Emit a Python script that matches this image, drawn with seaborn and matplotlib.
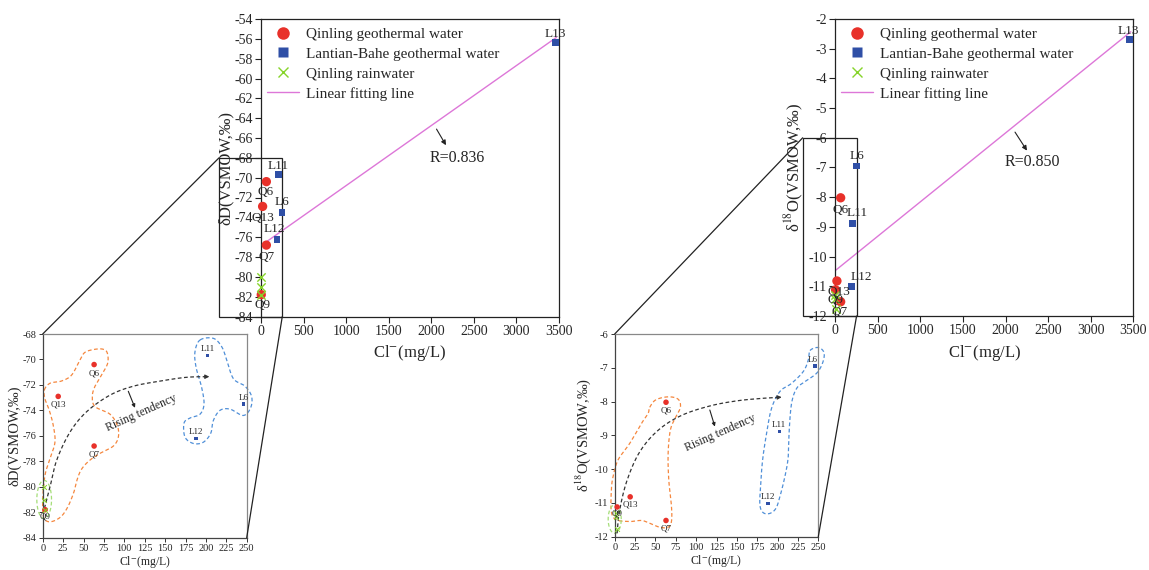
import numpy as np
import pandas as pd
import matplotlib
matplotlib.use("Agg")
import matplotlib.pyplot as plt
import seaborn as sns
from matplotlib.lines import Line2D
from matplotlib.patches import Rectangle, ConnectionPatch

# ---------------- data ----------------
q_labels = ["Q6", "Q13", "Q7", "Q9"]
q_cl = [63, 19, 63, 3]
q_dD = [-70.4, -72.9, -76.8, -81.8]
q_d18O = [-8.02, -10.82, -11.52, -11.12]

l_labels = ["L6", "L11", "L12", "L13"]
l_cl = [246, 202, 188, 3455]
l_dD = [-73.5, -69.7, -76.2, -56.4]
l_d18O = [-6.95, -8.88, -11.02, -2.68]

r_cl = [1, 2, 3]
r_dD = [-80.0, -81.0, -81.8]
r_d18O = [-11.29, -11.42, -11.78]

fit_cl = [0, 3470]
fit_dD = [-76.85, -55.85]
fit_d18O = [-10.47, -2.43]
r_texts = ["R=0.836", "R=0.850"]

legend_labels = ["Qinling geothermal water", "Lantian-Bahe geothermal water",
                 "Qinling rainwater", "Linear fitting line"]

# hand-drawn group outlines in the zoomed panels (data coords)
hull_q_dD = [(2.0, -72.4), (8.9, -71.87), (23.2, -71.69), (35.5, -71.22), (45.7, -70.04),
             (51.8, -69.44), (64.1, -69.2), (74.3, -69.2), (79.2, -69.5), (79.6, -70.3),
             (72.3, -71.2), (64.1, -72.1), (60.8, -72.9), (64.1, -73.7), (82.5, -74.3),
             (91.5, -75.2), (92.7, -76.1), (86.6, -76.8), (72.3, -77.3), (58.0, -77.9),
             (47.8, -78.6), (42.4, -79.4), (38.3, -80.4), (31.4, -81.5), (23.2, -82.3),
             (13.0, -82.7), (4.9, -82.7), (0.8, -82.3), (0.0, -81.0), (2.8, -79.1),
             (8.9, -77.8), (15.0, -76.5), (13.0, -75.2), (8.1, -74.0), (2.8, -73.1)]
hull_l_dD = [(192.8, -68.47), (209.1, -68.34), (219.3, -68.99), (225.4, -70.0), (233.6, -71.5),
             (247.9, -72.1), (256.0, -72.9), (254.8, -73.8), (245.8, -74.4), (229.5, -73.9),
             (217.2, -74.0), (209.1, -74.8), (205.9, -75.8), (196.9, -76.5), (184.7, -76.6),
             (174.4, -76.1), (173.2, -75.0), (180.5, -74.6), (192.8, -74.3), (197.7, -73.5),
             (194.8, -72.2), (187.9, -70.6), (186.6, -69.4)]
hull_r_dD = (1.8, -81.0, 18.0, 3.0)
trend_dD = [(2.1, -81.7), (9.0, -80.0), (17.2, -77.9), (33.5, -75.7), (53.9, -74.1),
            (82.5, -72.8), (111.1, -72.1), (143.8, -71.7), (176.4, -71.4), (204.2, -71.35)]

hull_q_d18O = [(43.0, -8.17), (50.4, -7.95), (65.6, -7.86), (77.9, -7.93), (80.7, -8.17),
               (75.0, -8.45), (68.4, -8.84), (65.6, -9.53), (66.4, -10.32), (69.7, -11.1),
               (69.7, -11.55), (65.6, -11.72), (55.3, -11.72), (43.0, -11.6), (32.8, -11.52),
               (18.4, -11.55), (2.1, -11.5), (-4.1, -11.26), (-4.1, -10.62), (-2.0, -10.22),
               (4.1, -9.73), (18.4, -9.24), (32.8, -8.65), (41.0, -8.35)]
hull_l_d18O = [(239.8, -6.49), (250.0, -6.40), (257.0, -6.55), (255.4, -6.85), (248.0, -7.16),
               (233.6, -7.41), (223.4, -7.61), (217.2, -8.05), (214.3, -8.84), (213.1, -9.63),
               (209.0, -10.22), (202.9, -10.81), (198.0, -11.16), (190.6, -11.31), (182.4, -11.29),
               (178.3, -11.06), (179.1, -10.52), (181.6, -9.73), (186.5, -8.94), (192.6, -8.2),
               (202.9, -7.70), (217.2, -7.46), (231.6, -7.11), (237.7, -6.77)]
hull_r_d18O = (0.0, -11.48, 16.0, 0.84)
trend_d18O = [(2.9, -11.9), (6.1, -11.21), (15.2, -10.33), (30.7, -9.49), (53.3, -8.85),
              (82.0, -8.41), (116.8, -8.13), (149.6, -7.98), (178.3, -7.91), (205.0, -7.87)]

# ---------------- style ----------------
sns.set_theme(style="ticks")
plt.rcParams["font.family"] = ["Liberation Serif", "DejaVu Serif"]
plt.rcParams["mathtext.fontset"] = "stix"
plt.rcParams["axes.unicode_minus"] = False

RED = "#e8312a"
BLUE = "#2f4fa6"
GREEN = "#86d42a"
PINK = "#dd77d8"
ORANGE = "#f5873e"
LBLUE = "#4f8fd8"
LGREEN = "#a5de78"


def smooth(pts, n=16, closed=True):
    P = np.asarray(pts, float)
    N = len(P)
    if not closed:
        P = np.vstack([P[0], P, P[-1]])
    out = []
    rng = range(N) if closed else range(1, N)
    for i in rng:
        if closed:
            p0, p1, p2, p3 = P[(i - 1) % N], P[i], P[(i + 1) % N], P[(i + 2) % N]
        else:
            p0, p1, p2, p3 = P[i - 1], P[i], P[i + 1], P[i + 2]
        t = np.linspace(0, 1, n, endpoint=False)[:, None]
        seg = 0.5 * ((2 * p1) + (-p0 + p2) * t + (2 * p0 - 5 * p1 + 4 * p2 - p3) * t ** 2
                     + (-p0 + 3 * p1 - 3 * p2 + p3) * t ** 3)
        out.append(seg)
    out.append(P[:1] if closed else P[-2:-1])
    return np.vstack(out)


W, H = 1149, 570
fig = plt.figure(figsize=(W / 100, H / 100), dpi=100)


def ax_at(l, t, r, b):
    return fig.add_axes([l / W, 1 - b / H, (r - l) / W, (b - t) / H])


ax1 = ax_at(261, 19, 559, 316.5)
ax2 = ax_at(835.3, 19, 1133.3, 316)
in1 = ax_at(42.7, 334, 246.7, 537.7)
in2 = ax_at(614.7, 334, 818.3, 536.7)

q_df = pd.DataFrame({"cl": q_cl, "dD": q_dD, "d18O": q_d18O, "lab": q_labels})
l_df = pd.DataFrame({"cl": l_cl, "dD": l_dD, "d18O": l_d18O, "lab": l_labels})
r_df = pd.DataFrame({"cl": r_cl, "dD": r_dD, "d18O": r_d18O})
fit_df = pd.DataFrame({"cl": fit_cl, "dD": fit_dD, "d18O": fit_d18O})

main_q_off = {
    "dD": {"Q6": (-1, -10), "Q13": (0, -12), "Q7": (0, -12), "Q9": (1, -10)},
    "d18O": {"Q6": (0, -12), "Q13": (2, -11), "Q7": (-1, -10), "Q9": (0, -10)},
}
main_l_off = {
    "dD": {"L6": (0, 10), "L11": (0, 9), "L12": (-3, 10), "L13": (0, 9)},
    "d18O": {"L6": (1, 10), "L11": (5, 10), "L12": (10, 10), "L13": (-1, 8)},
}
in_q_off = {
    "dD": {"Q6": (0, -9), "Q13": (0, -8), "Q7": (0, -8), "Q9": (0, -7)},
    "d18O": {"Q6": (0, -8), "Q13": (0, -8), "Q7": (0, -8), "Q9": (0, -7)},
}
in_l_off = {
    "dD": {"L6": (0, 6), "L11": (0, 7), "L12": (0, 6)},
    "d18O": {"L6": (-2, 6), "L11": (0, 6), "L12": (0, 7)},
}

configs = [
    dict(ax=ax1, ins=in1, col="dD", ylim=(-84, -54), ystep=2, iylim=(-84, -68), iystep=2,
         ylabel="δD(VSMOW,‰)", rect=(-493, -84, 743, 16), rtext=r_texts[0],
         rarrow=((2045, -64.86), (2189, -66.97)), rpos=(2300, -68.0), ylpad=0.5,
         hq=hull_q_dD, hl=hull_l_dD, hr=hull_r_dD, tr=trend_dD,
         small=((104.9, -72.5), (113.1, -73.8)), rising=(121.3, -74.18)),
    dict(ax=ax2, ins=in2, col="d18O", ylim=(-12, -2), ystep=1, iylim=(-12, -6), iystep=1,
         ylabel="δ$^{18}$O(VSMOW,‰)", rect=(-383, -12, 633, 6), rtext=r_texts[1],
         rarrow=((2093, -5.73), (2269, -6.51)), rpos=(2309, -6.81), ylpad=1.5,
         hq=hull_q_d18O, hl=hull_l_d18O, hr=hull_r_d18O, tr=trend_d18O,
         small=((116.8, -8.25), (123.0, -8.74)), rising=(130.0, -8.92)),
]

for c in configs:
    ax, ins, col = c["ax"], c["ins"], c["col"]
    # ---- main panel ----
    sns.lineplot(data=fit_df, x="cl", y=col, ax=ax, color=PINK, lw=1.0, legend=False)
    sns.scatterplot(data=q_df, x="cl", y=col, ax=ax, color=RED, marker="o", s=45,
                    edgecolor="none", clip_on=False, zorder=4, legend=False)
    sns.scatterplot(data=l_df, x="cl", y=col, ax=ax, color=BLUE, marker="s", s=24,
                    edgecolor="none", clip_on=False, zorder=4, legend=False)
    sns.scatterplot(data=r_df, x="cl", y=col, ax=ax, color=GREEN, marker="x", s=36,
                    linewidth=1.0, clip_on=False, zorder=5, legend=False)
    for _, row in q_df.iterrows():
        ax.annotate(row["lab"], (row["cl"], row[col]), xytext=main_q_off[col][row["lab"]],
                    textcoords="offset pixels", ha="center", va="center", fontsize=9.5,
                    annotation_clip=False, zorder=6)
    for _, row in l_df.iterrows():
        ax.annotate(row["lab"], (row["cl"], row[col]), xytext=main_l_off[col][row["lab"]],
                    textcoords="offset pixels", ha="center", va="center", fontsize=9.5,
                    annotation_clip=False, zorder=6)
    ax.annotate("", xy=c["rarrow"][1], xytext=c["rarrow"][0],
                arrowprops=dict(arrowstyle="-|>", color="#222222", lw=0.8,
                                mutation_scale=7))
    ax.text(*c["rpos"], c["rtext"], ha="center", va="center", fontsize=11.5)
    ax.set_xlim(0, 3500)
    ax.set_ylim(*c["ylim"])
    ax.set_xticks(np.arange(0, 3501, 500))
    ax.set_yticks(np.arange(c["ylim"][0], c["ylim"][1] + 0.01, c["ystep"]))
    ax.tick_params(direction="out", length=4, width=0.8, labelsize=10, pad=2, color="#222222")
    ax.set_xlabel("Cl$^{-}$(mg/L)", fontsize=12, labelpad=4)
    ax.set_ylabel(c["ylabel"], fontsize=12, labelpad=c["ylpad"])
    for sp in ax.spines.values():
        sp.set_visible(True)
        sp.set_color("#222222")
        sp.set_linewidth(0.9)
    handles = [
        Line2D([], [], ls="none", marker="o", ms=9, color=RED, mec="none"),
        Line2D([], [], ls="none", marker="s", ms=7, color=BLUE, mec="none"),
        Line2D([], [], ls="none", marker="x", ms=7.5, color=GREEN, mew=1.0),
        Line2D([], [], color=PINK, lw=1.0),
    ]
    ax.legend(handles, legend_labels, loc="upper left", bbox_to_anchor=(0.02, 0.972),
              frameon=False, fontsize=11, borderpad=0, borderaxespad=0,
              handlelength=2.1, handletextpad=0.45, labelspacing=0.4)
    # zoom box
    x0, y0, w, h = c["rect"]
    ax.add_patch(Rectangle((x0, y0), w, h, fill=False, ec="#222222", lw=0.9,
                           clip_on=False, zorder=3))

    # ---- inset panel ----
    for hull, hc in ((c["hq"], ORANGE), (c["hl"], LBLUE)):
        pts = smooth(hull)
        ins.plot(pts[:, 0], pts[:, 1], ls=(0, (3, 2)), color=hc, lw=0.9, clip_on=False)
    cx, cy, ew, eh = c["hr"]
    tt = np.linspace(0, 2 * np.pi, 100)
    ins.plot(cx + ew / 2 * np.cos(tt), cy + eh / 2 * np.sin(tt), ls=(0, (3, 2)),
             color=LGREEN, lw=0.9, clip_on=False)
    tr = smooth(c["tr"], closed=False)
    ins.plot(tr[:-3, 0], tr[:-3, 1], ls=(0, (3, 2)), color="#333333", lw=0.9)
    ins.annotate("", xy=tr[-1], xytext=tr[-4],
                 arrowprops=dict(arrowstyle="-|>", color="#333333", lw=0.8,
                                 mutation_scale=6, shrinkA=0, shrinkB=0))
    ins.annotate("", xy=c["small"][1], xytext=c["small"][0],
                 arrowprops=dict(arrowstyle="-|>", color="#222222", lw=0.8,
                                 mutation_scale=5, shrinkA=0, shrinkB=0))
    ins.text(*c["rising"], "Rising tendency", rotation=24, rotation_mode="anchor",
             ha="center", va="center", fontsize=8.5)

    qi = q_df[q_df["cl"] <= 250]
    li = l_df[l_df["cl"] <= 250]
    sns.scatterplot(data=qi, x="cl", y=col, ax=ins, color=RED, marker="o", s=16,
                    edgecolor="none", clip_on=False, zorder=4, legend=False)
    sns.scatterplot(data=li, x="cl", y=col, ax=ins, color=BLUE, marker="s", s=6,
                    edgecolor="none", clip_on=False, zorder=4, legend=False)
    sns.scatterplot(data=r_df, x="cl", y=col, ax=ins, color=GREEN, marker="x", s=12,
                    linewidth=0.7, clip_on=False, zorder=5, legend=False)
    for _, row in qi.iterrows():
        ins.annotate(row["lab"], (row["cl"], row[col]), xytext=in_q_off[col][row["lab"]],
                     textcoords="offset pixels", ha="center", va="center", fontsize=6.5,
                     annotation_clip=False, zorder=6)
    for _, row in li.iterrows():
        ins.annotate(row["lab"], (row["cl"], row[col]), xytext=in_l_off[col][row["lab"]],
                     textcoords="offset pixels", ha="center", va="center", fontsize=6.5,
                     annotation_clip=False, zorder=6)
    ins.set_xlim(0, 250)
    ins.set_ylim(*c["iylim"])
    ins.set_xticks(np.arange(0, 251, 25))
    ins.set_yticks(np.arange(c["iylim"][0], c["iylim"][1] + 0.01, c["iystep"]))
    ins.tick_params(direction="out", length=3, width=0.7, labelsize=7.5, pad=1.5,
                    color="#333333")
    ins.set_xlabel("Cl$^{-}$(mg/L)", fontsize=8.5, labelpad=1)
    ins.set_ylabel(c["ylabel"], fontsize=10.5, labelpad=1)
    for name, sp in ins.spines.items():
        sp.set_visible(True)
        sp.set_linewidth(0.9)
        sp.set_color("#444444" if name in ("left", "bottom") else "#888888")

    # connector lines
    for pa, pb in (((x0, y0 + h), (0, 1)), ((x0 + w, y0), (1, 0))):
        con = ConnectionPatch(xyA=pa, coordsA=ax.transData, xyB=pb, coordsB=ins.transAxes,
                              color="#222222", lw=0.9)
        fig.add_artist(con)

fig.savefig("out.png", dpi=100)
